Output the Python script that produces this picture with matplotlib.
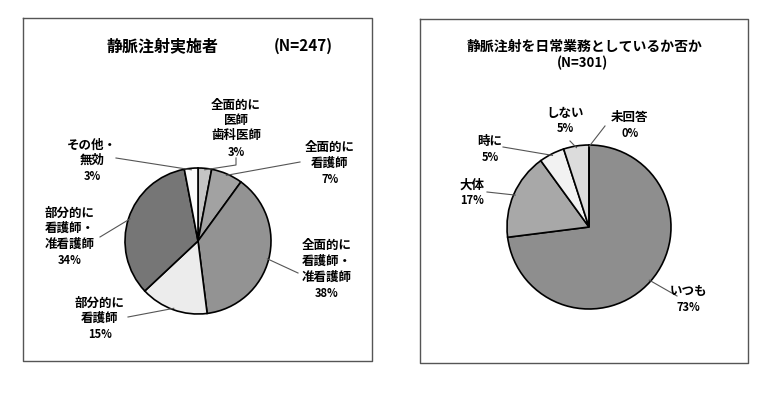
import matplotlib
matplotlib.use('Agg')
import matplotlib.pyplot as plt
import numpy as np

plt.rcParams['font.family'] = ['Noto Sans CJK JP', 'DejaVu Sans']
plt.rcParams['font.weight'] = 'bold'

# left chart: 静脈注射実施者
left_title = '静脈注射実施者'
left_n = '(N=247)'
left_labels = [['全面的に', '医師', '歯科医師'], ['全面的に', '看護師'],
               ['全面的に', '看護師・', '准看護師'], ['部分的に', '看護師'],
               ['部分的に', '看護師・', '准看護師'], ['その他・', '無効']]
left_values = [3, 7, 38, 15, 34, 3]
left_colors = ['#c4c4c4', '#a2a2a2', '#939393', '#ececec', '#767676', '#fbfbfb']

# right chart: 静脈注射を日常業務としているか否か
right_title = '静脈注射を日常業務としているか否か'
right_n = '(N=301)'
right_labels = [['いつも'], ['大体'], ['時に'], ['しない'], ['未回答']]
right_values = [73, 17, 5, 5, 0]
right_colors = ['#8e8e8e', '#a8a8a8', '#f2f2f2', '#dcdcdc', '#ffffff']

W, H = 778, 402
def Y(y):
    return H - y

fig = plt.figure(figsize=(7.78, 4.02), dpi=100)
ax = fig.add_axes([0, 0, 1, 1])
ax.set_xlim(0, W)
ax.set_ylim(0, H)
ax.set_aspect('equal')
ax.axis('off')

# panel boxes
for x0, y0, x1, y1 in [(23, 19, 372, 362), (420, 20, 748, 364)]:
    ax.plot([x0, x1, x1, x0, x0], [Y(y0), Y(y0), Y(y1), Y(y1), Y(y0)],
            color='#555555', lw=1)

def draw_pie(values, colors, center, r):
    ax.pie(values, colors=colors, startangle=90, counterclock=False,
           center=(center[0], Y(center[1])), radius=r,
           wedgeprops=dict(edgecolor='black', linewidth=1.2), frame=True)
    # mid-angle edge points for leader lines
    cum = np.cumsum([0] + values) / float(sum(values))
    pts = []
    for i in range(len(values)):
        th = np.radians(90 - 360 * (cum[i] + cum[i + 1]) / 2)
        pts.append((center[0] + r * np.cos(th) * 0.98, Y(center[1]) + r * np.sin(th) * 0.98))
    return pts

def put_label(lines, val, x, y0, step=15.5, fs=9, pfs=8):
    for i, s in enumerate(lines):
        ax.text(x, Y(y0 + i * step), s, ha='center', va='center', fontsize=fs)
    ax.text(x, Y(y0 + len(lines) * step + 1), '%d%%' % val, ha='center',
            va='center', fontsize=pfs)

def leader(path, edge):
    xs = [p[0] for p in path] + [edge[0]]
    ys = [Y(p[1]) for p in path] + [edge[1]]
    ax.plot(xs, ys, color='#555555', lw=0.8)

# left
pts = draw_pie(left_values, left_colors, (198, 242), 73)
left_pos = [(236, 105), (330, 148), (327, 246), (100, 303), (70, 213), (92, 145)]
left_lead = [[(236, 159), (236, 166)], [(300, 163)], [(298, 274)],
             [(128, 318)], [(100, 238)], [(116, 159)]]
for lab, v, (x, y), lp, e in zip(left_labels, left_values, left_pos, left_lead, pts):
    put_label(lab, v, x, y)
    leader(lp, e)
ax.text(162, Y(46), left_title, ha='center', va='center', fontsize=11.5)
ax.text(303, Y(46), left_n, ha='center', va='center', fontsize=11)

# right
pts = draw_pie(right_values, right_colors, (589, 228), 82)
right_pos = [(688, 292), (472, 185), (490, 142), (565, 113), (630, 118)]
right_lead = [[(677, 297)], [(487, 193)], [(503, 148)], [(570, 142)], [(605, 127)]]
for lab, v, (x, y), lp, e in zip(right_labels, right_values, right_pos, right_lead, pts):
    put_label(lab, v, x, y, step=14.5)
    leader(lp, e)
ax.text(585, Y(47), right_title, ha='center', va='center', fontsize=10)
ax.text(583, Y(63), right_n, ha='center', va='center', fontsize=9.5)

ax.set_xlim(0, W)
ax.set_ylim(0, H)
ax.axis('off')
fig.savefig('out.png', dpi=100)
